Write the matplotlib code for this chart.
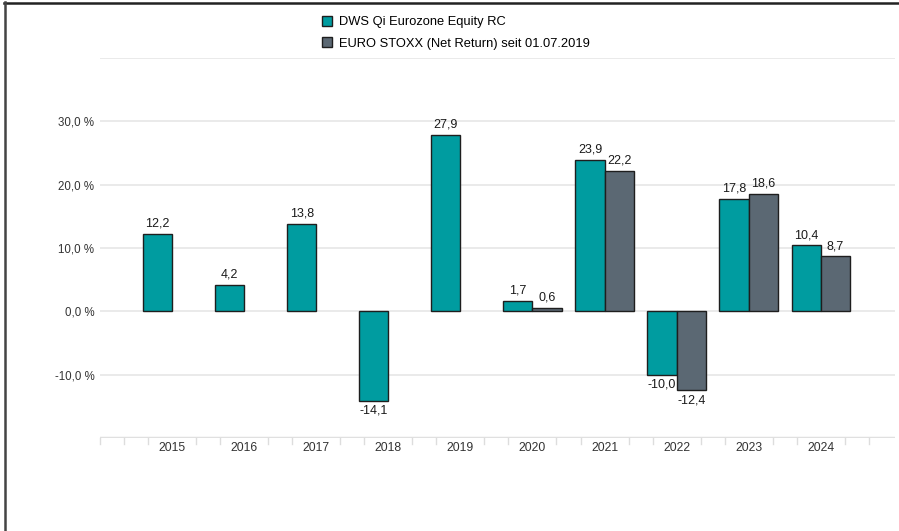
import numpy as numpy
import matplotlib.pyplot as plt
from matplotlib.lines import Line2D

years = ["2015", "2016", "2017", "2018", "2019", "2020", "2021", "2022", "2023", "2024"]
fund = [12.2, 4.2, 13.8, -14.1, 27.9, 1.7, 23.9, -10.0, 17.8, 10.4]
bench = [numpy.nan, numpy.nan, numpy.nan, numpy.nan, numpy.nan, 0.6, 22.2, -12.4, 18.6, 8.7]
fundName = "DWS Qi Eurozone Equity RC"
benchName = "EURO STOXX (Net Return) seit 01.07.2019"
yticks = [-10, 0, 10, 20, 30]

teal = "#009ca0"
slate = "#5b6873"
edge = "#1e1e1e"

plt.rcParams['font.family'] = ['Liberation Sans', 'DejaVu Sans']

fig = plt.figure( figsize=(8.99, 5.31), dpi=100 )
ax = fig.add_axes( [100/899, 1 - 438/531, 795/899, 380/531] )

x = numpy.arange( len( years ) )
w = 0.405
ax.bar( x - w/2, fund, w, color=teal, edgecolor=edge, linewidth=1.0, label=fundName, zorder=3 )
ax.bar( x + w/2, bench, w, color=slate, edgecolor=edge, linewidth=1.0, label=benchName, zorder=3 )

def fmtv( v ) :
    return ( "%.1f" % v ).replace( ".", "," )

for xs, vals in ( ( x - w/2, fund ), ( x + w/2, bench ) ) :
    for xi, v in zip( xs, vals ) :
        if numpy.isnan( v ) : continue
        if v >= 0 :
            ax.annotate( fmtv( v ), ( xi, v ), xytext=(0, 3), textcoords="offset points",
                         ha="center", va="bottom", fontsize=9, color="#1a1a1a", zorder=4 )
        else :
            ax.annotate( fmtv( v ), ( xi, v ), xytext=(0, -3), textcoords="offset points",
                         ha="center", va="top", fontsize=9, color="#1a1a1a", zorder=4 )

ax.set_xlim( -1, 10.03 )
ax.set_ylim( -20, 40 )

# gridlines
for g in yticks + [40] :
    ax.axhline( g, color="#e8e8e8", linewidth=1.3, zorder=1 )
ax.axhline( -20, color="#e0e0e0", linewidth=2.5, zorder=2 )

ax.set_yticks( yticks )
ax.set_yticklabels( [ fmtv( t ) + " %" for t in yticks ], fontsize=8.3, color="#333333" )
ax.set_xticks( x )
ax.set_xticklabels( years, fontsize=8.7, color="#333333" )
ax.tick_params( axis="both", length=0, pad=4 )
ax.tick_params( axis="x", pad=3 )

# small ticks below the axis
mt = [ -1 + k/3.0 for k in range( 0, 34 ) if k % 3 != 0 ] + [ -1 ]
for t in mt :
    ax.plot( [t, t], [-20, -20.9], color="#dddddd", linewidth=1.0, clip_on=False, zorder=2 )

for s in ax.spines.values() :
    s.set_visible( False )

handles = [ plt.Rectangle( (0, 0), 1, 1, facecolor=teal, edgecolor=edge, linewidth=1.0 ),
            plt.Rectangle( (0, 0), 1, 1, facecolor=slate, edgecolor=edge, linewidth=1.0 ) ]
fig.legend( handles, [fundName, benchName], loc="upper left", bbox_to_anchor=(322/899, 1 - 16/531),
            frameon=False, fontsize=9.3, handlelength=0.8, handleheight=0.8, handletextpad=0.5,
            labelspacing=0.7, borderaxespad=0, borderpad=0 )

# outer frame lines (top and left)
fig.add_artist( Line2D( [4/899, 1], [1 - 2.5/531, 1 - 2.5/531], color="#222222", linewidth=1.8 ) )
fig.add_artist( Line2D( [4.5/899, 4.5/899], [0, 1 - 2/531], color="#444444", linewidth=1.8 ) )

plt.savefig( "out.png", dpi=100 )
